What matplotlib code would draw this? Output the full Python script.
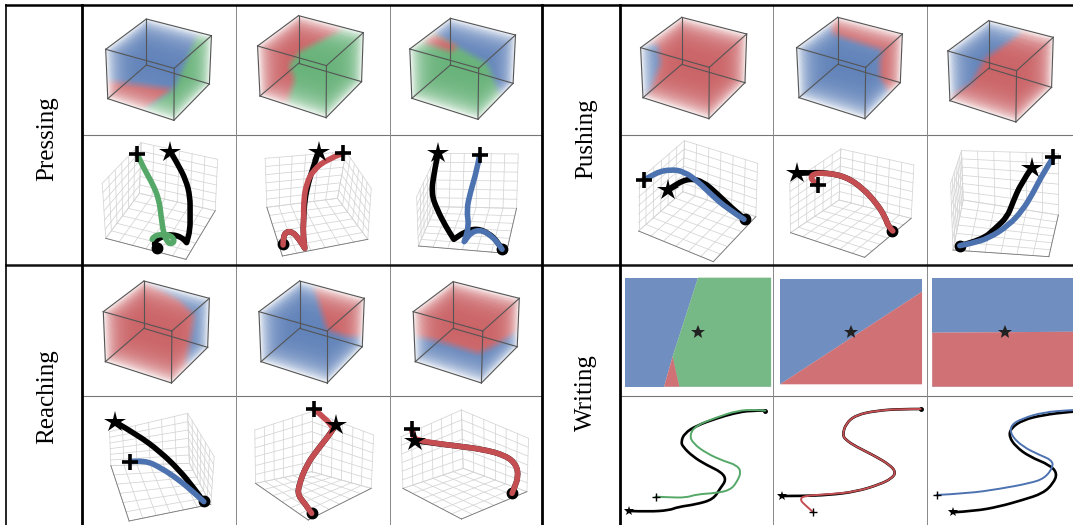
import numpy as np
import matplotlib
matplotlib.use('Agg')
import matplotlib.pyplot as plt
from matplotlib.path import Path
from matplotlib.patches import PathPatch

BLUE = '#4C72B0'
RED = '#C44E52'
GREEN = '#55A868'

# all coordinates below were read off zoomed crops of each quadrant
# origin x, origin y, x zoom factor (y zoom is 3)
origin_pressing = (0, 0, 2.904)
origin_pushing = (540, 0, 2.942)
origin_reaching = (0, 265, 2.904)
origin_writing = (540, 265, 2.942)

# cube corners: top back, top right, top front, top left, bottom left, bottom front, bottom right, hidden
pressing_cubes = [
    [(425, 57), (614, 107), (506, 205), (307, 148), (313, 296), (505, 361), (608, 252), (425, 195)],
    [(867, 47), (1055, 98), (948, 197), (748, 138), (755, 288), (947, 353), (1050, 245), (867, 190)],
    [(1308, 55), (1497, 105), (1390, 205), (1190, 147), (1196, 295), (1388, 358), (1490, 250), (1308, 195)],
]
pressing_bases = [BLUE, GREEN, GREEN]
pressing_regions = [
    [(RED, [(290, 240), (505, 268), (400, 345), (290, 330)]),
     (GREEN, [(505, 268), (575, 100), (640, 100), (640, 380), (400, 380), (400, 345)])],
    [(RED, [(730, 30), (1010, 30), (990, 90), (870, 155), (840, 195), (855, 240), (830, 320), (730, 320)])],
    [(BLUE, [(1255, 100), (1415, 190), (1455, 290), (1520, 290), (1520, 30), (1255, 30)]),
     (RED, [(1258, 100), (1222, 125), (1310, 155), (1330, 140)])],
]
pushing_cubes = [
    [(417, 52), (608, 102), (498, 202), (296, 143), (303, 293), (497, 356), (603, 248), (417, 193)],
    [(876, 52), (1066, 102), (958, 202), (755, 143), (762, 293), (956, 356), (1060, 248), (876, 193)],
    [(1320, 62), (1510, 112), (1402, 212), (1200, 153), (1206, 302), (1400, 366), (1505, 262), (1320, 205)],
]
pushing_bases = [RED, BLUE, RED]
pushing_regions = [
    [(BLUE, [(280, 130), (345, 130), (355, 190), (320, 280), (280, 300)])],
    [(RED, [(850, 40), (1080, 40), (1080, 290), (1030, 280), (1000, 230), (1000, 180), (1010, 150), (900, 115), (860, 100)])],
    [(BLUE, [(1180, 40), (1420, 40), (1415, 100), (1310, 175), (1270, 250), (1195, 295), (1180, 300)])],
]
reaching_cubes = [
    [(418, 48), (608, 100), (499, 198), (300, 140), (306, 290), (498, 354), (603, 247), (418, 190)],
    [(870, 48), (1058, 100), (950, 198), (752, 140), (758, 290), (950, 354), (1052, 245), (870, 190)],
    [(1316, 50), (1508, 100), (1402, 198), (1200, 140), (1206, 290), (1398, 354), (1502, 245), (1316, 190)],
]
reaching_bases = [RED, BLUE, RED]
reaching_regions = [
    [(BLUE, [(420, 45), (620, 45), (620, 300), (540, 300), (555, 210), (565, 150), (520, 105)])],
    [(RED, [(910, 60), (1075, 60), (1075, 215), (1010, 215), (950, 195)])],
    [(BLUE, [(1190, 210), (1280, 230), (1390, 265), (1440, 240), (1510, 195), (1520, 380), (1190, 380)])],
]

# 3d plot boxes: hexagon outline starting at the top corner, then the inner corner
pressing_boxes = [
    ([(410, 428), (632, 478), (625, 632), (540, 778), (307, 715), (297, 550)], (405, 580)),
    ([(1005, 455), (1078, 565), (1068, 718), (820, 768), (775, 622), (770, 475)], (980, 595)),
    ([(1270, 460), (1505, 462), (1500, 625), (1470, 760), (1215, 738), (1210, 590)], (1265, 620)),
]
pushing_boxes = [
    ([(425, 422), (640, 490), (635, 650), (510, 785), (290, 693), (290, 540)], (420, 575)),
    ([(885, 447), (1100, 495), (1092, 655), (955, 772), (737, 698), (735, 550)], (880, 600)),
    ([(1240, 452), (1525, 460), (1525, 645), (1497, 770), (1215, 750), (1208, 550)], (1245, 600)),
]
reaching_boxes = [
    ([(545, 445), (622, 575), (612, 718), (375, 768), (322, 602), (318, 500)], (550, 595)),
    ([(905, 440), (1085, 510), (1078, 670), (895, 765), (742, 655), (740, 495)], (905, 620)),
    ([(1340, 435), (1535, 520), (1530, 680), (1340, 762), (1170, 670), (1165, 515)], (1345, 610)),
]

# trajectories, a repeated point keeps a sharp corner
pressing_black = [
    [(495, 455), (515, 490), (540, 540), (552, 590), (552, 640), (552, 690), (542, 728), (542, 728), (528, 712), (500, 703), (475, 708), (450, 722), (448, 738), (460, 750)],
    [(925, 455), (910, 500), (895, 550), (885, 600), (882, 650), (880, 700), (885, 745), (885, 745), (870, 720), (850, 695), (830, 695), (822, 715), (822, 735)],
    [(1272, 460), (1262, 510), (1252, 580), (1270, 630), (1295, 680), (1318, 718), (1318, 718), (1350, 695), (1385, 685), (1420, 700), (1445, 725), (1458, 748)],
]
pressing_pred = [
    [(398, 462), (420, 510), (445, 555), (462, 600), (468, 650), (475, 700), (485, 725), (497, 733), (508, 722), (495, 705), (465, 703), (445, 710), (442, 718)],
    [(995, 460), (950, 478), (910, 510), (890, 550), (882, 600), (882, 650), (880, 700), (885, 745), (885, 745), (870, 720), (850, 695), (830, 695), (822, 715), (822, 735)],
    [(1393, 465), (1385, 510), (1365, 580), (1355, 630), (1362, 680), (1348, 725), (1348, 725), (1370, 695), (1400, 690), (1430, 710), (1450, 735), (1458, 748)],
]
pressing_colors = [GREEN, RED, BLUE]
pressing_ends = [(456, 745), (823, 733), (1458, 748)]

pushing_black = [
    [(377, 570), (400, 552), (440, 535), (480, 545), (520, 580), (560, 620), (600, 655)],
    [(755, 520), (800, 518), (840, 518), (900, 530), (950, 565), (990, 610), (1015, 650), (1025, 680), (1038, 693)],
    [(1447, 503), (1415, 550), (1390, 610), (1375, 650), (1340, 685), (1300, 720), (1235, 737)],
]
pushing_pred = [
    [(307, 540), (340, 518), (385, 508), (425, 515), (465, 545), (505, 585), (550, 625), (600, 658)],
    [(817, 555), (797, 540), (800, 522), (840, 518), (900, 530), (950, 565), (990, 610), (1015, 650), (1025, 680), (1038, 693)],
    [(1510, 472), (1480, 520), (1450, 580), (1420, 630), (1380, 675), (1320, 715), (1270, 730), (1235, 737)],
]
pushing_colors = [BLUE, RED, BLUE]
pushing_ends = [(602, 656), (1037, 693), (1235, 737)]

reaching_black = [
    [(333, 470), (400, 510), (465, 560), (520, 615), (560, 665), (592, 710)],
    [(975, 480), (960, 505), (925, 550), (890, 600), (868, 660), (865, 690), (885, 715), (905, 745)],
    [(1205, 527), (1300, 540), (1400, 552), (1470, 572), (1500, 600), (1505, 635), (1495, 665), (1487, 685)],
]
reaching_pred = [
    [(378, 590), (420, 585), (470, 610), (520, 645), (560, 680), (592, 710)],
    [(912, 433), (945, 460), (968, 490), (968, 490), (960, 505), (925, 550), (890, 600), (868, 660), (865, 690), (885, 715), (905, 745)],
    [(1195, 493), (1200, 510), (1205, 525), (1300, 540), (1400, 552), (1470, 572), (1500, 600), (1505, 635), (1495, 665), (1487, 685)],
]
reaching_colors = [BLUE, RED, RED]
reaching_ends = [(593, 708), (905, 744), (1487, 683)]

# writing panels
writing_rects = [(250, 38, 680, 365), (706, 42, 1124, 358), (1154, 38, 1600, 365)]
writing_bases = [BLUE, BLUE, BLUE]
writing_regions = [
    [(GREEN, [(465, 38), (680, 38), (680, 365), (410, 365), (390, 275)]),
     (RED, [(390, 275), (365, 365), (410, 365)])],
    [(RED, [(706, 358), (1124, 80), (1124, 358)])],
    [(RED, [(1154, 203), (1600, 200), (1600, 365), (1154, 365)])],
]
writing_stars = [(465, 200), (915, 200), (1368, 202)]
writing_black = [
    [(263, 738), (320, 740), (380, 736), (405, 726), (460, 718), (510, 703), (530, 670), (548, 645), (535, 622), (490, 600), (450, 575), (420, 545), (415, 530), (425, 505), (460, 482), (520, 460), (570, 445), (620, 436), (663, 437)],
    [(713, 693), (770, 693), (850, 690), (930, 680), (1000, 658), (1035, 640), (1047, 622), (1030, 600), (980, 570), (930, 545), (900, 525), (890, 510), (900, 475), (930, 450), (990, 437), (1060, 432), (1120, 432)],
    [(1214, 742), (1280, 738), (1350, 725), (1420, 705), (1480, 685), (1510, 655), (1522, 625), (1500, 600), (1440, 575), (1400, 545), (1380, 515), (1385, 490), (1420, 465), (1480, 450), (1560, 440), (1600, 438)],
]
writing_pred = [
    [(340, 695), (380, 697), (430, 698), (460, 688), (520, 684), (560, 675), (580, 650), (592, 620), (578, 600), (540, 588), (490, 565), (450, 535), (440, 510), (458, 482), (520, 457), (580, 437), (630, 434), (663, 437)],
    [(803, 741), (780, 720), (765, 705), (775, 692), (850, 688), (930, 680), (1000, 658), (1035, 640), (1047, 622), (1030, 600), (980, 570), (930, 545), (900, 525), (890, 510), (900, 475), (930, 450), (990, 437), (1060, 432), (1120, 432)],
    [(1167, 690), (1260, 685), (1350, 672), (1440, 655), (1485, 640), (1510, 605), (1505, 585), (1470, 570), (1420, 545), (1385, 510), (1385, 480), (1420, 460), (1480, 442), (1560, 435), (1600, 434)],
]
writing_colors = [GREEN, RED, BLUE]
writing_ends = [(663, 437), (1120, 432), (1600, 436)]

row_labels = ['Pressing', 'Pushing', 'Reaching', 'Writing']
label_xs = [47, 586, 47, 586]
label_ys = [139, 139, 397, 393]


def to_px(points, origin):
    pts = np.array(points, dtype=float)
    return np.column_stack([origin[0] + pts[:, 0] / origin[2], origin[1] + pts[:, 1] / 3.0])


def blur(img, k):
    kernel = np.ones(k) / k
    img = np.apply_along_axis(lambda r: np.convolve(r, kernel, mode='same'), 0, img)
    return np.apply_along_axis(lambda r: np.convolve(r, kernel, mode='same'), 1, img)


def draw_cube(ax, corners, base, regions, origin):
    tb, tr, tf, tl, bl, bf, br, hid = to_px(corners, origin)
    scale = 2
    pts = np.array([tb, tr, tf, tl, bl, bf, br, hid])
    x0, y0 = np.floor(pts.min(axis=0)) - 4
    x1, y1 = np.ceil(pts.max(axis=0)) + 4
    nx, ny = int((x1 - x0) * scale), int((y1 - y0) * scale)

    # how much of the cube lies behind each pixel
    t = np.linspace(0, 1, 70)
    u, v, w = np.meshgrid(t, t, t, indexing='ij')
    u, v, w = u.ravel()[:, None], v.ravel()[:, None], w.ravel()[:, None]
    p = ((1-u)*(1-v)*(1-w)*hid + u*(1-v)*(1-w)*bl + (1-u)*v*(1-w)*br + u*v*(1-w)*bf
         + (1-u)*(1-v)*w*tb + u*(1-v)*w*tl + (1-u)*v*w*tr + u*v*w*tf)
    dens, _, _ = np.histogram2d(p[:, 1], p[:, 0], bins=[ny, nx], range=[[y0, y1], [x0, x1]])
    dens = blur(dens, 5)
    dens = dens / dens.max()
    alpha = 0.88 * (1 - np.exp(-4.5 * dens)) / (1 - np.exp(-4.5))

    gx, gy = np.meshgrid(x0 + (np.arange(nx) + .5) / scale, y0 + (np.arange(ny) + .5) / scale)
    grid = np.column_stack([gx.ravel(), gy.ravel()])
    rgb = np.ones((ny, nx, 3)) * np.array(matplotlib.colors.to_rgb(base))
    for color, poly in regions:
        mask = Path(to_px(poly, origin)).contains_points(grid).reshape(ny, nx).astype(float)
        mask = blur(mask, 17)[:, :, None]
        rgb = rgb * (1 - mask) + np.array(matplotlib.colors.to_rgb(color)) * mask
    rgba = np.dstack([rgb, alpha])
    ax.imshow(rgba, extent=(x0, x1, y1, y0), aspect='auto', interpolation='bilinear', zorder=1)

    edges = [(tb, tr), (tr, tf), (tf, tl), (tl, tb), (bl, bf), (bf, br), (br, hid), (hid, bl),
             (tb, hid), (tr, br), (tf, bf), (tl, bl)]
    for a, b in edges:
        ax.plot([a[0], b[0]], [a[1], b[1]], color='#555555', lw=0.8, zorder=2)


def draw_box(ax, hexagon, inner, origin, n=6):
    h = to_px(hexagon, origin)
    c = to_px([inner], origin)[0]
    panes = [(c, h[0], h[1], h[2]), (c, h[2], h[3], h[4]), (c, h[4], h[5], h[0])]
    for p0, p1, p2, p3 in panes:
        for s in np.linspace(0, 1, n + 1):
            a = p0 + (p1 - p0) * s
            b = p3 + (p2 - p3) * s
            ax.plot([a[0], b[0]], [a[1], b[1]], color='#d4d4d4', lw=0.55, zorder=2)
            a = p0 + (p3 - p0) * s
            b = p1 + (p2 - p1) * s
            ax.plot([a[0], b[0]], [a[1], b[1]], color='#d4d4d4', lw=0.55, zorder=2)
    for a, b in [(h[4], h[3]), (h[3], h[2])]:
        ax.plot([a[0], b[0]], [a[1], b[1]], color='#777777', lw=0.6, zorder=2)


def smooth_line(ax, pts, color, lw, z):
    # quadratic curves through the midpoints, the read points act as control points
    verts = [pts[0]]
    codes = [Path.MOVETO]
    for i in range(1, len(pts) - 1):
        mid = (pts[i] + pts[i + 1]) / 2 if i < len(pts) - 2 else pts[i + 1]
        verts += [pts[i], mid]
        codes += [Path.CURVE3, Path.CURVE3]
    ax.add_patch(PathPatch(Path(verts, codes), fill=False, edgecolor=color, lw=lw,
                           capstyle='round', joinstyle='round', zorder=z))


def draw_traj(ax, black, pred, color, end, origin, lw=4.0, lw_pred=4.0, ms=7.5, star=16, plus=11, mew=2.6):
    b = to_px(black, origin)
    r = to_px(pred, origin)
    e = to_px([end], origin)[0]
    smooth_line(ax, b, 'k', lw, 3)
    ax.plot(e[0], e[1], 'o', color='k', ms=ms, zorder=4)
    smooth_line(ax, r, color, lw_pred, 5)
    ax.plot(b[0, 0], b[0, 1], '*', color='k', ms=star, mew=0, zorder=6)
    ax.plot(r[0, 0], r[0, 1], '+', color='k', ms=plus, mew=mew, zorder=6)


fig = plt.figure(figsize=(10.73, 5.25), dpi=100)
ax = fig.add_axes([0, 0, 1, 1])

for cubes, bases, regions, origin in [
        (pressing_cubes, pressing_bases, pressing_regions, origin_pressing),
        (pushing_cubes, pushing_bases, pushing_regions, origin_pushing),
        (reaching_cubes, reaching_bases, reaching_regions, origin_reaching)]:
    for corners, base, reg in zip(cubes, bases, regions):
        draw_cube(ax, corners, base, reg, origin)

for boxes, black, pred, colors, ends, origin in [
        (pressing_boxes, pressing_black, pressing_pred, pressing_colors, pressing_ends, origin_pressing),
        (pushing_boxes, pushing_black, pushing_pred, pushing_colors, pushing_ends, origin_pushing),
        (reaching_boxes, reaching_black, reaching_pred, reaching_colors, reaching_ends, origin_reaching)]:
    for i in range(3):
        draw_box(ax, boxes[i][0], boxes[i][1], origin)
        draw_traj(ax, black[i], pred[i], colors[i], ends[i], origin)

# writing row: flat decision regions and thin strokes
for i in range(3):
    x0, y0, x1, y1 = writing_rects[i]
    rect = to_px([(x0, y0), (x1, y0), (x1, y1), (x0, y1)], origin_writing)
    ax.fill(rect[:, 0], rect[:, 1], color=writing_bases[i], alpha=0.8, lw=0, zorder=1)
    for color, poly in writing_regions[i]:
        # white first so the base colour does not show through
        p = to_px(poly, origin_writing)
        ax.fill(p[:, 0], p[:, 1], color='white', lw=0, zorder=1.1)
        ax.fill(p[:, 0], p[:, 1], color=color, alpha=0.8, lw=0, zorder=1.2)
    s = to_px([writing_stars[i]], origin_writing)[0]
    ax.plot(s[0], s[1], '*', color='#222222', ms=10, mew=0, zorder=3)
    draw_traj(ax, writing_black[i], writing_pred[i], writing_colors[i], writing_ends[i], origin_writing,
              lw=1.9, lw_pred=1.4, ms=2.5, star=7, plus=6, mew=1.0)

# table rules
for y in [134.5, 396]:
    ax.plot([82, 541], [y, y], color='#777777', lw=0.8, zorder=8)
    ax.plot([620, 1073], [y, y], color='#777777', lw=0.8, zorder=8)
for x in [235.5, 389.5, 773, 927]:
    ax.plot([x, x], [5, 525], color='#888888', lw=0.7, zorder=8)
ax.plot([6, 1073], [5, 5], color='k', lw=1.8, zorder=9)
ax.plot([6, 1073], [264.8, 264.8], color='#111111', lw=1.8, zorder=9)
for x, w in [(6, 1.2), (82, 2.0), (541.5, 2.0), (620, 2.0)]:
    ax.plot([x, x], [5, 525], color='k', lw=w, zorder=9)

for label, x, y in zip(row_labels, label_xs, label_ys):
    ax.text(x, y, label, rotation=90, ha='center', va='center', fontsize=18,
            family='Liberation Serif', color='k', zorder=10)

ax.set_xlim(0, 1073)
ax.set_ylim(525, 0)
ax.axis('off')
fig.savefig('out.png', dpi=100)
